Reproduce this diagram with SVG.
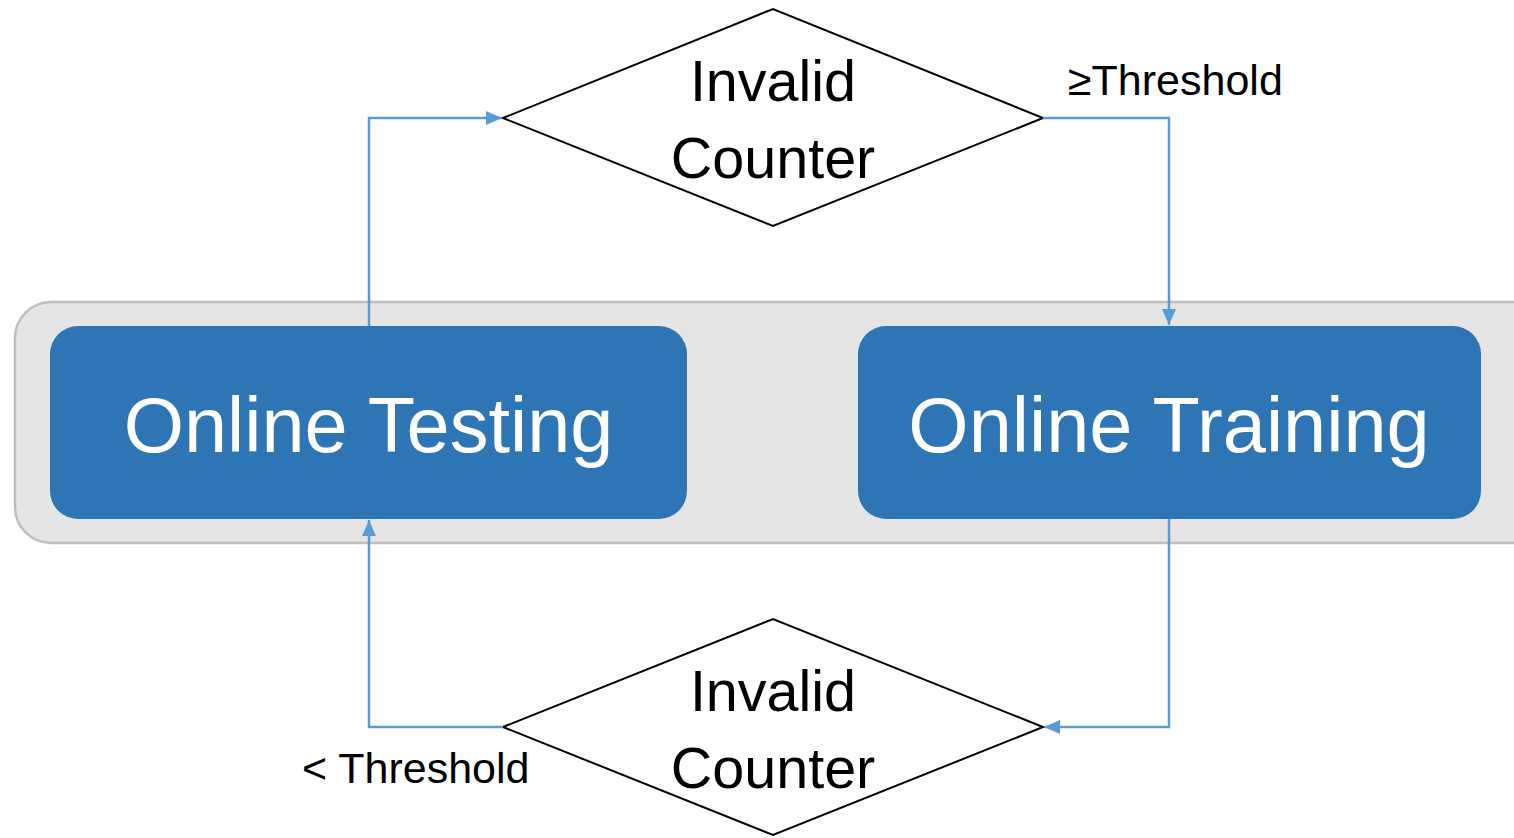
<svg xmlns="http://www.w3.org/2000/svg" width="1514" height="838" viewBox="0 0 1514 838">
<style>
.box{fill:#2e75b6;}
.big{font-family:"Liberation Sans",Arial,sans-serif;font-size:77.5px;fill:#ffffff;text-anchor:middle;}
.dia{fill:#ffffff;stroke:#000000;stroke-width:2;}
.dt{font-family:"Liberation Sans",Arial,sans-serif;font-size:57.5px;fill:#000000;text-anchor:middle;}
.lbl{font-family:"Liberation Sans",Arial,sans-serif;font-size:43px;fill:#000000;}
.conn{fill:none;stroke:#5b9bd5;stroke-width:2.5;}
</style>
<defs>
<marker id="arrow" viewBox="0 0 16 14" refX="16" refY="7" markerWidth="16" markerHeight="14" orient="auto" markerUnits="userSpaceOnUse">
<path d="M0,0 L16,7 L0,14 z" fill="#5b9bd5"/>
</marker>
</defs>
<g id="container">
<rect x="15" y="302" width="1540" height="241" rx="36" ry="36" fill="#e5e5e5" stroke="#bfbfbf" stroke-width="2.5"/>
</g>
<g id="online-testing">
<rect class="box" x="50" y="326" width="637" height="193" rx="28" ry="28"/>
<text class="big" x="368.5" y="452">Online Testing</text>
</g>
<g id="online-training">
<rect class="box" x="858" y="326" width="623" height="193" rx="28" ry="28"/>
<text class="big" x="1169" y="452">Online Training</text>
</g>
<g id="invalid-counter-top">
<polygon class="dia" points="503,118 773,9 1043,118 773,226"/>
<text class="dt" x="773" y="101">Invalid</text>
<text class="dt" x="773" y="178">Counter</text>
</g>
<g id="invalid-counter-bottom">
<polygon class="dia" points="503,727 773,619 1043,727 773,835"/>
<text class="dt" x="773" y="711">Invalid</text>
<text class="dt" x="773" y="788">Counter</text>
</g>
<g id="connectors">
<path class="conn" d="M369,326 V118 H502" marker-end="url(#arrow)"/>
<path class="conn" d="M1043,118 H1169 V325" marker-end="url(#arrow)"/>
<path class="conn" d="M1169,519 V727 H1044" marker-end="url(#arrow)"/>
<path class="conn" d="M503,727 H369 V520" marker-end="url(#arrow)"/>
<text class="lbl" x="1068" y="95">≥Threshold</text>
<text class="lbl" x="302" y="783">&lt; Threshold</text>
</g>
</svg>
